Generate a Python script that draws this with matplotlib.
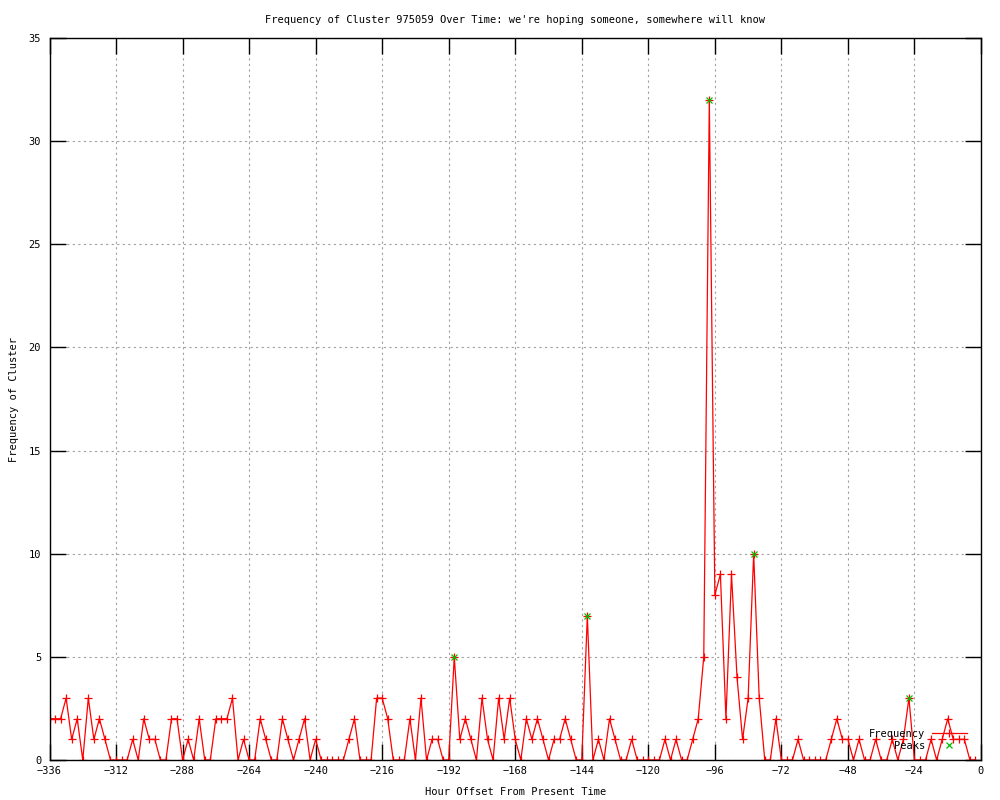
import numpy as np
import matplotlib
matplotlib.use("Agg")
import matplotlib.pyplot as plt

# hourly-bucketed counts, one every 2 hours, oldest first
hours = np.arange(-336, 0, 2)
freq = [2, 2, 2, 3, 1, 2, 0, 3, 1, 2, 1, 0, 0, 0, 0, 1, 0, 2, 1, 1, 0, 0, 2, 2, 0, 1, 0, 2,
        0, 0, 2, 2, 2, 3, 0, 1, 0, 0, 2, 1, 0, 0, 2, 1, 0, 1, 2, 0, 1, 0, 0, 0, 0, 0, 1,
        2, 0, 0, 0, 3, 3, 2, 0, 0, 0, 2, 0, 3, 0, 1, 1, 0, 0, 5, 1, 2, 1, 0, 3, 1, 0, 3,
        1, 3, 1, 0, 2, 1, 2, 1, 0, 1, 1, 2, 1, 0, 0, 7, 0, 1, 0, 2, 1, 0, 0, 1, 0, 0, 0,
        0, 0, 1, 0, 1, 0, 0, 1, 2, 5, 32, 8, 9, 2, 9, 4, 1, 3, 10, 3, 0, 0, 2, 0, 0, 0, 1,
        0, 0, 0, 0, 0, 1, 2, 1, 1, 0, 1, 0, 0, 1, 0, 0, 1, 0, 1, 3, 0, 0, 0, 1, 0, 1, 2, 1,
        1, 1, 0, 0]

peak_hours = [-190, -142, -98, -82, -26]
peak_vals = [5, 7, 32, 10, 3]

xticks = list(range(-336, 1, 24))
yticks = list(range(0, 36, 5))

plt.rcParams['font.family'] = ['DejaVu Sans Mono']
plt.rcParams['font.size'] = 7.5

fig = plt.figure(figsize=(10, 8), dpi=100)
ax = fig.add_axes([0.0495, 0.05, 0.9315, 0.9025])

ax.plot(hours, freq, color='#ff0000', lw=0.9, marker='+', ms=6, mew=0.9,
        label='Frequency')
ax.plot(peak_hours, peak_vals, ls='none', color='#00c000', marker='x', ms=5,
        mew=0.9, label='Peaks')

ax.set_xlim(-336, 0)
ax.set_ylim(0, 35)
ax.set_xticks(xticks)
ax.set_yticks(yticks)
ax.set_xticklabels([str(t).replace('-', '\u2212') for t in xticks])

ax.grid(True, color='#a0a0a0', ls=(0, (2, 3)), lw=0.8)
ax.tick_params(direction='in', length=11.5, width=1, top=True, right=True,
               colors='black', pad=4)
ax.tick_params(axis='y', pad=6)
for s in ax.spines.values():
    s.set_linewidth(1)

ax.set_title("Frequency of Cluster 975059 Over Time: we're hoping someone, somewhere will know",
             pad=11, fontsize=7.5)
ax.set_xlabel('Hour Offset From Present Time')
ax.set_ylabel('Frequency of Cluster')
ax.xaxis.set_label_coords(0.5, -0.038)
ax.yaxis.set_label_coords(-0.033, 0.5)

ax.legend(loc='lower right', bbox_to_anchor=(0.993, 0.003), frameon=False,
          markerfirst=False, numpoints=1, handlelength=3.4, handletextpad=0.6,
          labelspacing=0.15, borderaxespad=0.3, fontsize=7.5)

fig.savefig('out.png', dpi=100)
